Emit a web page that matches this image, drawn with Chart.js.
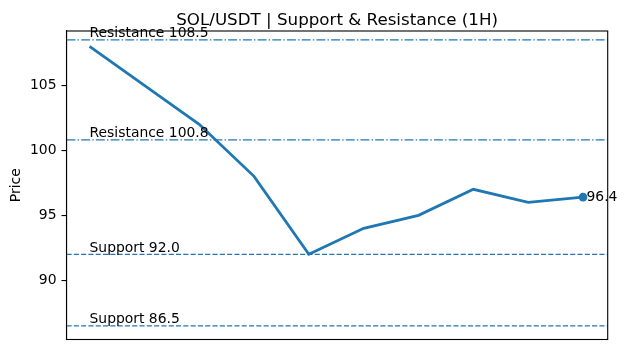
<!DOCTYPE html>
<html>
<head>
<meta charset="utf-8">
<script src="https://cdn.jsdelivr.net/npm/chart.js@4.4.1/dist/chart.umd.min.js"></script>
<style>
html,body{margin:0;padding:0;background:#fff;}
#wrap{width:628px;height:350px;position:relative;}
</style>
</head>
<body>
<div id="wrap"><canvas id="c" width="628" height="350"></canvas></div>
<script>
const titleText = "SOL/USDT | Support & Resistance (1H)";
const yAxisLabel = "Price";
const priceValues = [108.0, 105.0, 102.0, 98.0, 92.0, 94.0, 95.0, 97.0, 96.0, 96.4];
const resistanceLevels = [108.5, 100.8];
const supportLevels = [92.0, 86.5];
const yTickValues = [90, 95, 100, 105];

const BLUE = '#1f77b4';
const FONT = "'DejaVu Sans', sans-serif";
const xMin = -0.42, xMax = priceValues.length - 1 + 0.45;
const yMin = 85.45, yMax = 109.18;

function levelDataset(v, dash) {
  return {
    data: [{x: xMin, y: v}, {x: xMax, y: v}],
    borderColor: BLUE, borderWidth: 1.3, borderDash: dash,
    pointRadius: 0, fill: false, tension: 0
  };
}

const datasets = [];
resistanceLevels.forEach(v => datasets.push(levelDataset(v, [8.9, 2.2, 1.4, 2.2])));
supportLevels.forEach(v => datasets.push(levelDataset(v, [5.1, 2.2])));
datasets.push({
  data: priceValues.map((v, i) => ({x: i, y: v})),
  borderColor: BLUE, backgroundColor: BLUE, borderWidth: 2.8,
  pointRadius: priceValues.map((v, i) => i === priceValues.length - 1 ? 4.3 : 0),
  pointBorderWidth: 0, pointHoverRadius: 0, fill: false, tension: 0
});

const decor = {
  id: 'decor',
  afterDraw(chart) {
    const ctx = chart.ctx, a = chart.chartArea;
    const xs = chart.scales.x, ys = chart.scales.y;
    ctx.save();
    ctx.strokeStyle = '#000'; ctx.lineWidth = 1.1;
    ctx.strokeRect(a.left, a.top, a.right - a.left, a.bottom - a.top);
    ctx.fillStyle = '#000';
    ctx.font = "16.7px " + FONT;
    ctx.textAlign = 'center'; ctx.textBaseline = 'alphabetic';
    ctx.fillText(titleText, (a.left + a.right) / 2, 25);
    ctx.font = "13.9px " + FONT;
    ctx.textAlign = 'left';
    resistanceLevels.forEach(v => ctx.fillText('Resistance ' + v.toFixed(1), xs.getPixelForValue(0), ys.getPixelForValue(v + 0.2)));
    supportLevels.forEach(v => ctx.fillText('Support ' + v.toFixed(1), xs.getPixelForValue(0), ys.getPixelForValue(v + 0.2)));
    const li = priceValues.length - 1;
    ctx.textBaseline = 'middle';
    ctx.fillText(String(priceValues[li]), xs.getPixelForValue(li) + 3.5, ys.getPixelForValue(priceValues[li]));
    ctx.translate(16.5, (a.top + a.bottom) / 2);
    ctx.rotate(-Math.PI / 2);
    ctx.textAlign = 'center'; ctx.textBaseline = 'middle';
    ctx.fillText(yAxisLabel, 0, 0);
    ctx.restore();
  }
};

new Chart(document.getElementById('c'), {
  type: 'line',
  data: {datasets},
  options: {
    responsive: false, animation: false,
    layout: {padding: {top: 31, right: 20.3, bottom: 10.5, left: 0}},
    plugins: {legend: {display: false}, title: {display: false}, tooltip: {enabled: false}},
    scales: {
      x: {type: 'linear', min: xMin, max: xMax, display: false},
      y: {
        type: 'linear', min: yMin, max: yMax,
        afterFit(s) { s.width = 66.5; s.paddingTop = 0; s.paddingBottom = 0; },
        afterBuildTicks(s) { s.ticks = yTickValues.map(v => ({value: v})); },
        grid: {display: true, drawOnChartArea: false, drawTicks: true, tickLength: 5, color: '#000', lineWidth: 1.1},
        border: {display: true, color: '#000', width: 1.1},
        ticks: {color: '#000', font: {family: FONT, size: 13.9}, padding: 5, callback: v => String(v)}
      }
    }
  },
  plugins: [decor]
});
</script>
</body>
</html>
